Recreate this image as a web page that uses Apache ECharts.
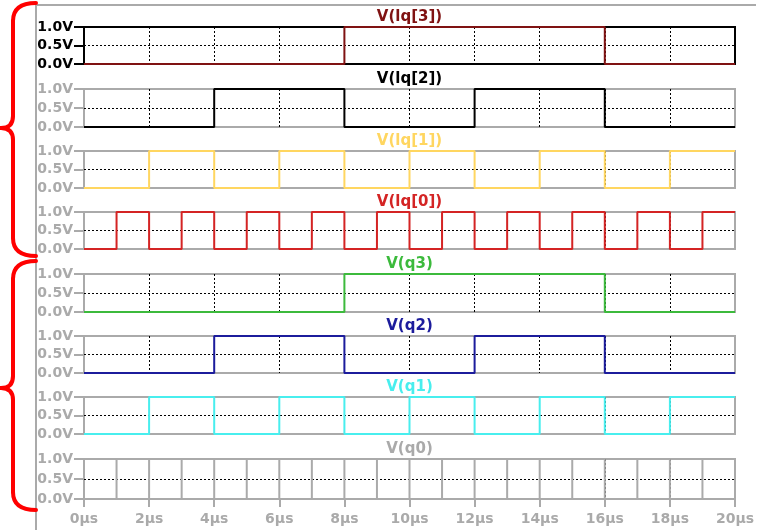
<!DOCTYPE html>
<html><head><meta charset="utf-8">
<script src="https://cdn.jsdelivr.net/npm/echarts@6/dist/echarts.min.js"></script>
<style>html,body{margin:0;padding:0;background:#fff}#c{width:762px;height:530px}</style>
</head><body><div id="c"></div>
<script>
// ---- data ----
const timeUs = [0,1,2,3,4,5,6,7,8,9,10,11,12,13,14,15,16,17,18,19,20];
const traceNames = ['V(lq[3])','V(lq[2])','V(lq[1])','V(lq[0])','V(q3)','V(q2)','V(q1)','V(q0)'];
const lq3 = [0,0,0,0,0,0,0,0,1,1,1,1,1,1,1,1,0,0,0,0,0];
const lq2 = [0,0,0,0,1,1,1,1,0,0,0,0,1,1,1,1,0,0,0,0,0];
const lq1 = [0,0,1,1,0,0,1,1,0,0,1,1,0,0,1,1,0,0,1,1,1];
const lq0 = [0,1,0,1,0,1,0,1,0,1,0,1,0,1,0,1,0,1,0,1,1];
const q3  = [0,0,0,0,0,0,0,0,1,1,1,1,1,1,1,1,0,0,0,0,0];
const q2  = [0,0,0,0,1,1,1,1,0,0,0,0,1,1,1,1,0,0,0,0,0];
const q1  = [0,0,1,1,0,0,1,1,0,0,1,1,0,0,1,1,0,0,1,1,1];
const q0  = [0,1,0,1,0,1,0,1,0,1,0,1,0,1,0,1,0,1,0,1,1];
const traceValues = [lq3, lq2, lq1, lq0, q3, q2, q1, q0];
const yTicks = [0, 0.5, 1];
const xTickStep = 2;

// ---- layout / style ----
const panelTop = [27, 89, 151, 212, 274, 336, 397, 459];
const panelHeight = [37, 38, 37, 37, 38, 37, 37, 40];
const plotLeft = 84, plotWidth = 651;
const traceColors = ['#7f1212','#000000','#ffd660','#d42424','#3cba3c','#1c1c9c','#48eeee','#aaaaaa'];
const gray = '#aaaaaa';
const font = 'DejaVu Sans';

const grids = [], xAxes = [], yAxes = [], series = [], titles = [];
for (let i = 0; i < 8; i++) {
  const frameColor = i === 0 ? '#000000' : gray;
  const last = i === 7;
  grids.push({left: plotLeft, width: plotWidth, top: panelTop[i], height: panelHeight[i],
    show: true, borderColor: frameColor, borderWidth: 2, backgroundColor: 'transparent'});
  xAxes.push({type: 'value', gridIndex: i, min: timeUs[0], max: timeUs[timeUs.length-1], interval: xTickStep,
    axisLine: {show: false},
    axisTick: {show: last, length: 8, lineStyle: {color: gray, width: 2}},
    axisLabel: {show: last, formatter: '{value}μs', color: gray, fontWeight: 'bold', fontSize: 14, fontFamily: font, margin: 13},
    splitLine: {show: true, showMinLine: false, showMaxLine: false, lineStyle: {color: '#000', width: 1, type: [2, 2]}}
  });
  yAxes.push({type: 'value', gridIndex: i, min: yTicks[0], max: yTicks[yTicks.length-1], interval: yTicks[1]-yTicks[0],
    axisLine: {show: false},
    axisTick: {show: true, length: 10, lineStyle: {color: frameColor, width: 2}},
    axisLabel: {formatter: v => v.toFixed(1) + 'V', color: frameColor, fontWeight: 'bold', fontSize: 14, fontFamily: font, margin: 11},
    splitLine: {show: true, showMinLine: false, showMaxLine: false, lineStyle: {color: '#000', width: 1, type: [2, 2]}}
  });
  series.push({type: 'line', name: traceNames[i], xAxisIndex: i, yAxisIndex: i, step: 'end',
    showSymbol: false, symbol: 'none', clip: false, animation: false,
    lineStyle: {color: traceColors[i], width: 2},
    data: timeUs.map((t, j) => [t, traceValues[i][j]])});
  titles.push({text: traceNames[i], left: plotLeft + plotWidth/2, top: panelTop[i] - 9.5, padding: 0,
    textAlign: 'center', textVerticalAlign: 'middle',
    textStyle: {color: traceColors[i], fontWeight: 'bold', fontSize: 15, fontFamily: font}});
}

const braceStyle = {stroke: '#ff0000', fill: null, lineWidth: 4, lineCap: 'round', lineJoin: 'round'};
function brace(yTop, yTip, yBot) {
  return [
    {type: 'bezierCurve', shape: {x1: 36, y1: yTop, cpx1: 13, cpy1: yTop, x2: 13, y2: yTop + 18}, style: braceStyle, z: 10},
    {type: 'line', shape: {x1: 13, y1: yTop + 18, x2: 13, y2: yTip - 12}, style: braceStyle, z: 10},
    {type: 'bezierCurve', shape: {x1: 13, y1: yTip - 12, cpx1: 13, cpy1: yTip, x2: 1, y2: yTip}, style: braceStyle, z: 10},
    {type: 'bezierCurve', shape: {x1: 1, y1: yTip, cpx1: 13, cpy1: yTip, x2: 13, y2: yTip + 12}, style: braceStyle, z: 10},
    {type: 'line', shape: {x1: 13, y1: yTip + 12, x2: 13, y2: yBot - 18}, style: braceStyle, z: 10},
    {type: 'bezierCurve', shape: {x1: 13, y1: yBot - 18, cpx1: 13, cpy1: yBot, x2: 36, y2: yBot}, style: braceStyle, z: 10}
  ];
}

const chart = echarts.init(document.getElementById('c'), null, {renderer: 'canvas'});
chart.setOption({
  animation: false,
  backgroundColor: '#ffffff',
  title: titles,
  grid: grids,
  xAxis: xAxes,
  yAxis: yAxes,
  series: series,
  graphic: [
    {type: 'line', shape: {x1: 36, y1: 5, x2: 36, y2: 530}, style: {stroke: gray, lineWidth: 2}, z: 1},
    {type: 'line', shape: {x1: 36, y1: 5, x2: 756, y2: 5}, style: {stroke: gray, lineWidth: 2}, z: 1}
  ].concat(brace(3, 128, 256), brace(261, 388, 510))
});
</script></body></html>
